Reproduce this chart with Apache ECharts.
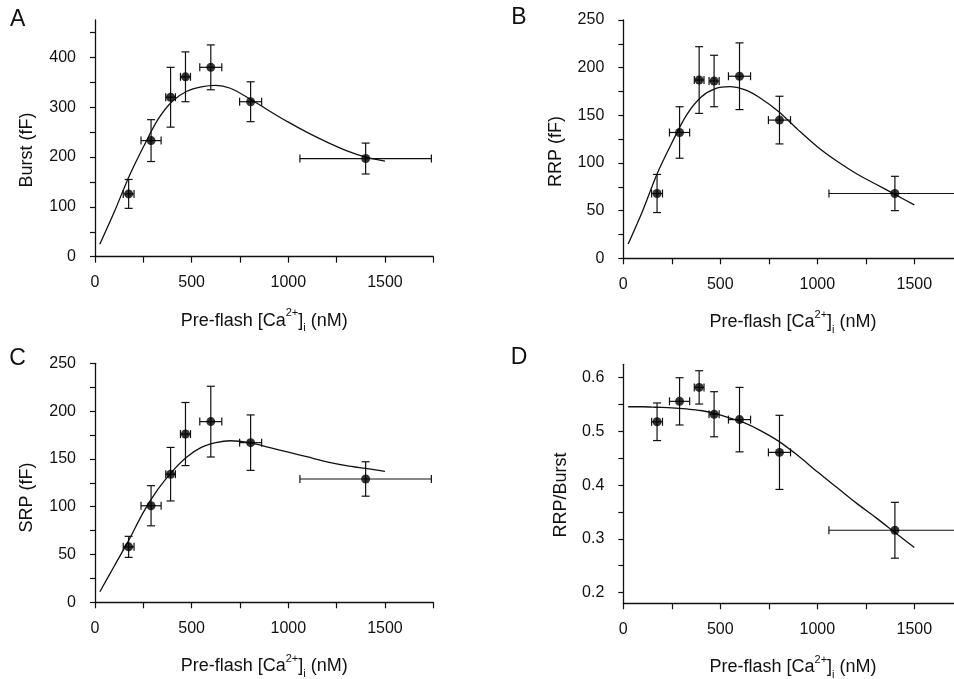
<!DOCTYPE html>
<html>
<head>
<meta charset="utf-8">
<title>Pool sizes vs pre-flash calcium</title>
<script src="https://cdn.jsdelivr.net/npm/echarts@6/dist/echarts.min.js"></script>
<style>
  html, body { margin: 0; padding: 0; background: #fff; }
  #chart { width: 954px; height: 679px; }
</style>
</head>
<body>
<div id="chart"></div>
<script>
// measured points (shared pre-flash [Ca2+]i bins)
const caX = [174, 290, 391, 468, 599, 805, 1400];
const caXErr = [28, 52, 25, 26, 57, 57, 340];

const burst = [126, 233, 320, 361, 380, 311, 197];
const burstErr = [29, 42, 60, 50, 45, 40, 31];
const rrp = [68, 132, 187, 186, 191, 145, 68];
const rrpErr = [20, 27, 35, 27, 35, 25, 18];
const srp = [58, 101, 134, 176, 189, 167, 129];
const srpErr = [11, 21, 28, 33, 37, 29, 18];
const ratio = [0.518, 0.556, 0.582, 0.532, 0.522, 0.461, 0.316];
const ratioErr = [0.035, 0.044, 0.031, 0.042, 0.060, 0.069, 0.052];

// fitted curves
const fitX = [25, 100, 175, 250, 325, 400, 475, 550, 625, 700, 800, 900, 1000, 1100, 1200, 1300, 1400, 1500];
const burstFit = [25, 90, 160, 220, 275, 312, 332, 341, 344, 338, 317, 293, 270, 249, 230, 213, 200, 192];
const rrpFit = [15, 50, 89, 121, 150, 169, 178, 180, 177, 169, 154, 135, 117, 102, 89, 78, 67, 56];
const srpFit = [11, 38, 65, 94, 118, 137, 152, 162, 167, 169, 167, 162, 157, 152, 147, 143, 140, 137];
const ratioFit = [0.546, 0.546, 0.545, 0.544, 0.542, 0.539, 0.533, 0.525, 0.516, 0.503, 0.482, 0.455, 0.425, 0.396, 0.367, 0.340, 0.312, 0.284];

// ticks
const xTicks = [0, 250, 500, 750, 1000, 1250, 1500, 1750];
const xLabels = [0, 500, 1000, 1500];
const burstTicks = [0, 50, 100, 150, 200, 250, 300, 350, 400, 450];
const burstLabels = [0, 100, 200, 300, 400];
const fFTicks = [0, 25, 50, 75, 100, 125, 150, 175, 200, 225, 250];
const fFLabels = [0, 50, 100, 150, 200, 250];
const ratioTicks = [0.2, 0.25, 0.3, 0.35, 0.4, 0.45, 0.5, 0.55, 0.6];
const ratioLabels = [0.2, 0.3, 0.4, 0.5, 0.6];

const FONT = '"Liberation Sans", Arial, Helvetica, sans-serif';
const INK = '#111';

const chart = echarts.init(document.getElementById('chart'), null, { renderer: 'canvas' });

const grids = [
  { left: 95, top: 20, width: 338.3, height: 236.7 },
  { left: 623.3, top: 20, width: 339.5, height: 238.3 },
  { left: 95, top: 363.3, width: 338.3, height: 239 },
  { left: 623.3, top: 364.3, width: 339.5, height: 239 }
].map(g => Object.assign({ containLabel: false, outerBoundsMode: 'none' }, g));

function xAxisFor(i) {
  return {
    type: 'value',
    gridIndex: i,
    min: 0,
    max: 1750,
    axisLine: { onZero: false, lineStyle: { color: INK, width: 1.3 } },
    axisTick: { customValues: xTicks, length: 6, lineStyle: { color: INK, width: 1.2 } },
    axisLabel: {
      customValues: xLabels,
      formatter: v => String(v),
      margin: 18,
      color: INK,
      fontSize: 16,
      fontFamily: FONT
    },
    splitLine: { show: false },
    name: '{n|Pre-flash [Ca}{sup|2+}{n|]}{sub|i}{n| (nM)}',
    nameLocation: 'middle',
    nameGap: 51,
    nameTextStyle: {
      rich: {
        n: { fontSize: 18, fontFamily: FONT, color: INK, lineHeight: 26 },
        sup: { fontSize: 11, fontFamily: FONT, color: INK, verticalAlign: 'top', lineHeight: 12 },
        sub: { fontSize: 11, fontFamily: FONT, color: INK, verticalAlign: 'bottom', lineHeight: 12 }
      }
    }
  };
}

function yAxisFor(i, min, max, ticks, labels) {
  return {
    type: 'value',
    gridIndex: i,
    min: min,
    max: max,
    axisLine: { show: true, onZero: false, lineStyle: { color: INK, width: 1.3 } },
    axisTick: { show: true, customValues: ticks, length: 5, lineStyle: { color: INK, width: 1.2 } },
    axisLabel: {
      customValues: labels,
      formatter: v => String(v),
      margin: 19,
      color: INK,
      fontSize: 16,
      fontFamily: FONT
    },
    splitLine: { show: false }
  };
}

// vertical + horizontal error bars with caps
function errorBars(i, ys, errs) {
  return {
    type: 'custom',
    xAxisIndex: i,
    yAxisIndex: i,
    clip: false,
    silent: true,
    z: 3,
    data: caX.map((x, k) => [x, ys[k], caXErr[k], errs[k]]),
    renderItem: function (params, api) {
      const x = api.value(0), y = api.value(1), dx = api.value(2), dy = api.value(3);
      const top = api.coord([x, y + dy]);
      const bot = api.coord([x, y - dy]);
      const lft = api.coord([x - dx, y]);
      const rgt = api.coord([x + dx, y]);
      const cap = 4;
      const seg = (x1, y1, x2, y2) => ({
        type: 'line',
        shape: { x1: x1, y1: y1, x2: x2, y2: y2 },
        style: { stroke: INK, lineWidth: 1.2 }
      });
      return {
        type: 'group',
        children: [
          seg(top[0], top[1], bot[0], bot[1]),
          seg(top[0] - cap, top[1], top[0] + cap, top[1]),
          seg(bot[0] - cap, bot[1], bot[0] + cap, bot[1]),
          seg(lft[0], lft[1], rgt[0], rgt[1]),
          seg(lft[0], lft[1] - cap, lft[0], lft[1] + cap),
          seg(rgt[0], rgt[1] - cap, rgt[0], rgt[1] + cap)
        ]
      };
    }
  };
}

function points(i, ys) {
  return {
    type: 'scatter',
    xAxisIndex: i,
    yAxisIndex: i,
    symbol: 'circle',
    symbolSize: 9,
    itemStyle: { color: '#000' },
    z: 4,
    data: caX.map((x, k) => [x, ys[k]])
  };
}

function fitLine(i, ys) {
  return {
    type: 'line',
    xAxisIndex: i,
    yAxisIndex: i,
    smooth: 0.3,
    showSymbol: false,
    symbol: 'none',
    lineStyle: { color: INK, width: 1.3 },
    z: 2,
    data: fitX.map((x, k) => [x, ys[k]])
  };
}

function label(text, x, y, size, rotate) {
  return {
    type: 'text',
    x: x,
    y: y,
    rotation: rotate ? Math.PI / 2 : 0,
    style: {
      text: text,
      fill: INK,
      fontSize: size,
      fontFamily: FONT,
      align: 'center',
      verticalAlign: 'middle',
      textAlign: 'center',
      textVerticalAlign: 'middle'
    }
  };
}

const option = {
  animation: false,
  backgroundColor: '#fff',
  grid: grids,
  xAxis: [0, 1, 2, 3].map(xAxisFor),
  yAxis: [
    yAxisFor(0, 0, 475, burstTicks, burstLabels),
    yAxisFor(1, 0, 250, fFTicks, fFLabels),
    yAxisFor(2, 0, 250, fFTicks, fFLabels),
    yAxisFor(3, 0.18, 0.625, ratioTicks, ratioLabels)
  ],
  graphic: [
    label('A', 17.7, 20, 23),
    label('B', 519, 18, 23),
    label('C', 17.5, 359, 23),
    label('D', 519, 358, 23),
    label('Burst (fF)', 27.5, 150, 18, true),
    label('RRP (fF)', 556.5, 151.5, 18, true),
    label('SRP (fF)', 27.5, 497.5, 18, true),
    label('RRP/Burst', 561, 495, 18, true)
  ],
  series: [
    fitLine(0, burstFit), errorBars(0, burst, burstErr), points(0, burst),
    fitLine(1, rrpFit), errorBars(1, rrp, rrpErr), points(1, rrp),
    fitLine(2, srpFit), errorBars(2, srp, srpErr), points(2, srp),
    fitLine(3, ratioFit), errorBars(3, ratio, ratioErr), points(3, ratio)
  ]
};

chart.setOption(option);
</script>
</body>
</html>
